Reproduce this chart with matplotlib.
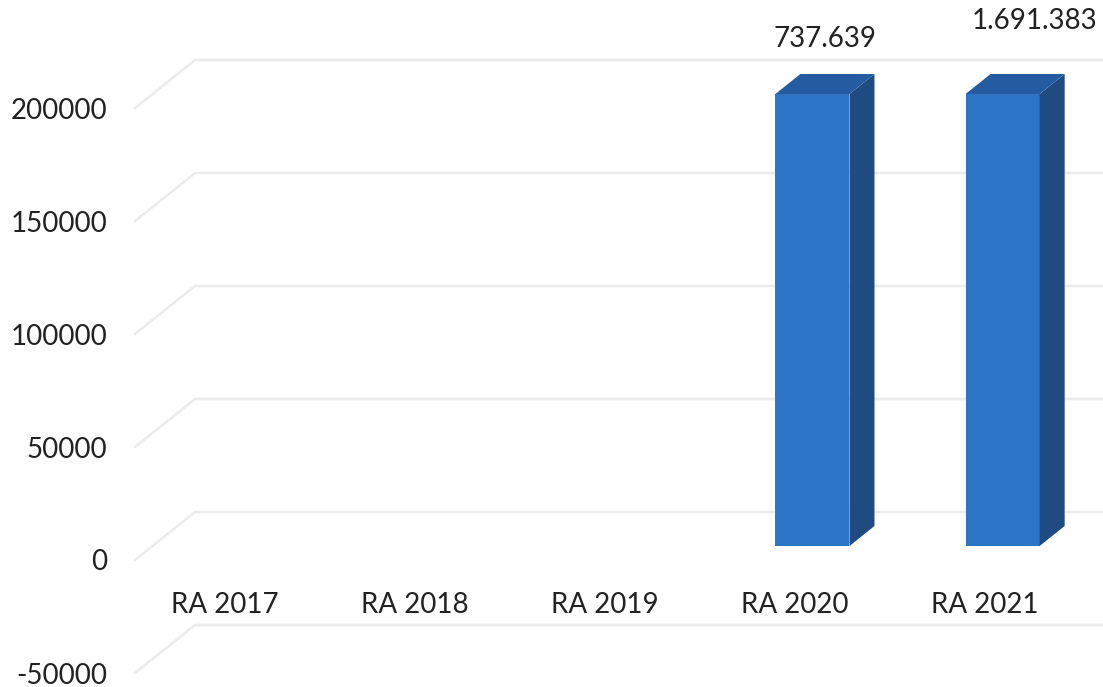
import matplotlib
matplotlib.use("Agg")
import matplotlib.pyplot as plt
from matplotlib.patches import Polygon

# Data -----
categories = ['RA 2017', 'RA 2018', 'RA 2019', 'RA 2020', 'RA 2021']
values = [0, 0, 0, 737639, 1691383]
value_labels = ['', '', '', '737.639', '1.691.383']
y_ticks = [-50000, 0, 50000, 100000, 150000, 200000]

# Style -----
y_min, y_max = -50000, 200000
x_min, x_max = -0.47, 4.62
px_x = 1 / 190.0          # data units per pixel, x
px_y = 50000 / 113.0      # data units per pixel, y
grid_dx, grid_dy = 60 * px_x, 48 * px_y      # floor depth of the gridlines
front_dx, front_dy = 17.5 * px_x, 14 * px_y  # bar front plane offset
bar_dx, bar_dy = 25 * px_x, 20 * px_y        # bar depth
bar_w = 74 * px_x
label_offsets = [(0, 0), (0, 0), (0, 0), (0, 25), (14, 38)]  # points

col_front = '#2e74c6'
col_top = '#255ba0'
col_side = '#1f4a82'
grid_col = '#ebebeb'
text_col = '#222222'

plt.rcParams['font.family'] = ['Lato', 'DejaVu Sans']

fig = plt.figure(figsize=(11.03, 6.87), dpi=100)
ax = fig.add_axes([135 / 1103, 14 / 687, 1 - 135 / 1103, (673 - 108) / 687])
ax.set_xlim(x_min, x_max)
ax.set_ylim(y_min, y_max)
for s in ax.spines.values():
    s.set_visible(False)
ax.set_xticks([])
ax.set_yticks(y_ticks)
ax.set_yticklabels([str(t) for t in y_ticks])
ax.tick_params(axis='y', length=0, pad=20, labelsize=20, labelcolor=text_col)

# gridlines: short diagonal on the side wall, then flat back line
for t in y_ticks:
    ax.plot([x_min, x_min + grid_dx, x_max], [t, t + grid_dy, t + grid_dy],
            color=grid_col, lw=1.8, clip_on=False, zorder=1)

# category labels
for i, c in enumerate(categories):
    ax.text(i, -20000, c, ha='center', va='center', fontsize=20, color=text_col)

# 3D bars, cut at the top of the value axis
for i, v in enumerate(values):
    if v == 0:
        continue
    top = min(v, y_max)
    x0 = i + front_dx - bar_w / 2
    x1 = i + front_dx + bar_w / 2
    b = front_dy
    h = top + front_dy
    front = Polygon([(x0, b), (x1, b), (x1, h), (x0, h)], closed=True,
                    facecolor=col_front, edgecolor='none', clip_on=False, zorder=3)
    side = Polygon([(x1, b), (x1 + bar_dx, b + bar_dy), (x1 + bar_dx, h + bar_dy), (x1, h)],
                   closed=True, facecolor=col_side, edgecolor='none', clip_on=False, zorder=3)
    topf = Polygon([(x0, h), (x1, h), (x1 + bar_dx, h + bar_dy), (x0 + bar_dx, h + bar_dy)],
                   closed=True, facecolor=col_top, edgecolor='none', clip_on=False, zorder=3)
    for p in (front, side, topf):
        ax.add_patch(p)
    ax.annotate(value_labels[i], xy=(i + front_dx + bar_dx / 2, h + bar_dy),
                xytext=label_offsets[i], textcoords='offset points',
                ha='center', va='center', fontsize=20, color=text_col,
                annotation_clip=False)

fig.savefig('out.png', dpi=100)
